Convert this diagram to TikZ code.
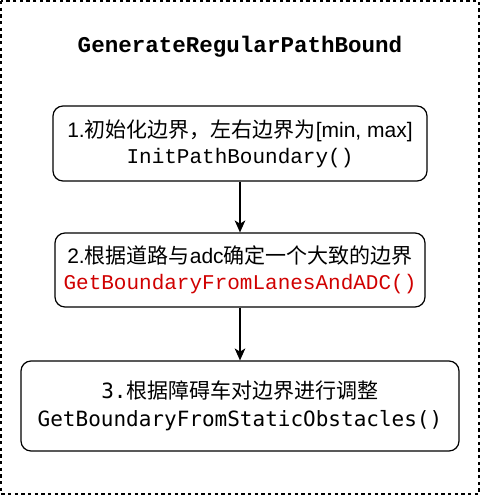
\documentclass[tikz,border=0pt]{standalone}
\usepackage{fontspec}
\setmainfont{Liberation Sans}
\newfontfamily\cjk{Noto Sans CJK SC}
\newfontfamily\cour{Liberation Mono}
\newfontfamily\djm{DejaVu Sans Mono}
\usetikzlibrary{arrows.meta}
\definecolor{codered}{HTML}{D00000}
\begin{document}
\begin{tikzpicture}[x=0.75pt,y=-0.75pt,
  stepbox/.style={draw,line width=0.9pt,rounded corners=7.5pt,align=center,inner sep=0pt},
  arr/.style={line width=0.9pt,-{Stealth[length=9pt,width=8pt,inset=2.5pt]}}]
\useasboundingbox (0,0) rectangle (482,497);
\draw[line width=0.8pt,dash pattern=on 2.5pt off 2.5pt] (1,1) rectangle (479,494);
\node[font=\fontsize{16.9}{20}\selectfont\cour\bfseries] (title) at (240,47) {GenerateRegularPathBound};
\node[stepbox,minimum width=374*0.75pt,minimum height=75*0.75pt,font=\fontsize{15.75}{19.5}\selectfont] (b1) at (240,143.5)
  {1.{\cjk 初始化边界，左右边界为}[min, max]\\{\cour InitPathBoundary()}};
\node[stepbox,minimum width=370*0.75pt,minimum height=74*0.75pt,font=\fontsize{15.75}{19.5}\selectfont] (b2) at (240,270)
  {2.{\cjk 根据道路与}adc{\cjk 确定一个大致的边界}\\{\cour\color{codered}GetBoundaryFromLanesAndADC()}};
\node[stepbox,minimum width=438*0.75pt,minimum height=90*0.75pt,font=\fontsize{15.75}{21}\selectfont\djm] (b3) at (240,406)
  {3.{\cjk 根据障碍车对边界进行调整}\\GetBoundaryFromStaticObstacles()};
\draw[arr] (b1) -- (b2);
\draw[arr] (b2) -- (b3);
\end{tikzpicture}
\end{document}
